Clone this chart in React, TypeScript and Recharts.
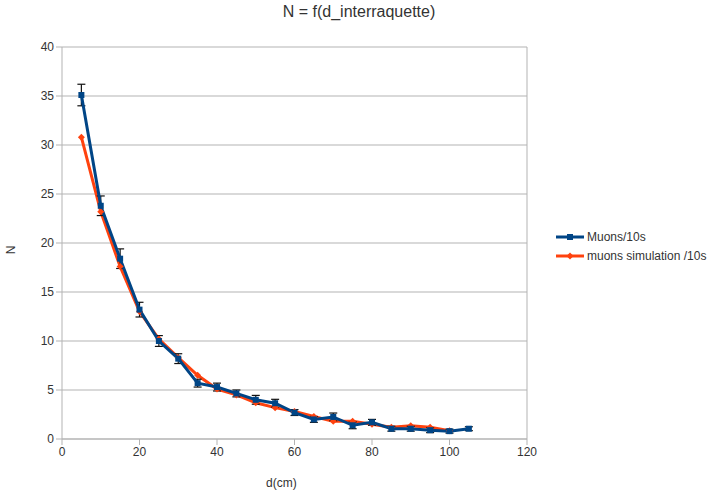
import React from 'react';
import { LineChart, Line, XAxis, YAxis, CartesianGrid, ErrorBar, Legend, ReferenceLine } from 'recharts';

const distances = [5, 10, 15, 20, 25, 30, 35, 40, 45, 50, 55, 60, 65, 70, 75, 80, 85, 90, 95, 100, 105];
const muons = [35.1, 23.8, 18.4, 13.2, 10.0, 8.2, 5.7, 5.3, 4.65, 4.0, 3.65, 2.7, 2.0, 2.25, 1.4, 1.7, 1.05, 1.05, 0.9, 0.8, 1.05];
const muonErrors = [1.1, 1.0, 1.0, 0.75, 0.55, 0.5, 0.4, 0.4, 0.35, 0.45, 0.4, 0.3, 0.3, 0.4, 0.35, 0.3, 0.25, 0.25, 0.25, 0.2, 0.2];
const simulation = [30.8, 23.2, 17.6, 13.0, 10.2, 8.3, 6.5, 5.1, 4.5, 3.7, 3.2, 2.8, 2.3, 1.8, 1.8, 1.5, 1.2, 1.35, 1.2, 0.85, null];
const xTicks = [0, 20, 40, 60, 80, 100, 120];
const yTicks = [0, 5, 10, 15, 20, 25, 30, 35, 40];

const seriesNames = ['Muons/10s', 'muons simulation /10s'];
const BLUE = '#004586';
const RED = '#ff420e';

const data = distances.map((d, i) => ({
  d,
  muons: muons[i],
  err: muonErrors[i],
  sim: simulation[i],
}));

const SquareDot = (props: any) => {
  const { cx, cy } = props;
  if (cx == null || cy == null) return null;
  return <rect x={cx - 3} y={cy - 3} width={6} height={6} fill={BLUE} />;
};

const DiamondDot = (props: any) => {
  const { cx, cy } = props;
  if (cx == null || cy == null) return null;
  return <polygon points={`${cx},${cy - 3.5} ${cx + 3.5},${cy} ${cx},${cy + 3.5} ${cx - 3.5},${cy}`} fill={RED} />;
};

const LegendContent = () => (
  <div style={{ fontFamily: 'Liberation Sans, Arial, sans-serif', fontSize: 12, color: '#333' }}>
    {seriesNames.map((name, i) => (
      <div key={name} style={{ display: 'flex', alignItems: 'center', height: 19 }}>
        <svg width={28} height={10} style={{ marginRight: 3 }}>
          <line x1={0} y1={5} x2={28} y2={5} stroke={i === 0 ? BLUE : RED} strokeWidth={3} />
          {i === 0 ? (
            <rect x={11} y={2} width={6} height={6} fill={BLUE} />
          ) : (
            <polygon points="14,1.5 17.5,5 14,8.5 10.5,5" fill={RED} />
          )}
        </svg>
        <span>{name}</span>
      </div>
    ))}
  </div>
);

export default function App() {
  const font = 'Liberation Sans, Arial, sans-serif';
  return (
    <div style={{ position: 'absolute', left: 0, top: 0, width: 724, height: 492, background: '#fff', fontFamily: font }}>
      <div style={{ position: 'absolute', left: 0, width: 724, top: 3, textAlign: 'center', fontSize: 16, color: '#333' }}>
        <span style={{ position: 'relative', left: -3 }}>N = f(d_interraquette)</span>
      </div>
      <div style={{ position: 'absolute', left: 7, top: 243, fontSize: 12, color: '#333', transform: 'rotate(-90deg)', transformOrigin: 'center' }}>N</div>
      <div style={{ position: 'absolute', left: 266, top: 476, fontSize: 12, color: '#333' }}>d(cm)</div>
      <LineChart
        width={724}
        height={492}
        data={data}
        margin={{ top: 47, right: 197, bottom: 23, left: 32 }}
      >
        <CartesianGrid stroke="#b3b3b3" vertical={false} />
        <XAxis
          dataKey="d"
          type="number"
          domain={[0, 120]}
          ticks={xTicks}
          interval={0}
          height={30}
          tickSize={6}
          tickMargin={2}
          stroke="#b3b3b3"
          tick={{ fill: '#333', fontSize: 12, fontFamily: font }}
        />
        <YAxis
          type="number"
          domain={[0, 40]}
          ticks={yTicks}
          interval={0}
          width={30}
          tickSize={6}
          tickMargin={2}
          stroke="#b3b3b3"
          tick={{ fill: '#333', fontSize: 12, fontFamily: font }}
        />
        <ReferenceLine x={120} stroke="#b3b3b3" />
        <Line
          dataKey="sim"
          name={seriesNames[1]}
          stroke={RED}
          strokeWidth={3}
          dot={<DiamondDot />}
          activeDot={false}
          isAnimationActive={false}
          connectNulls
        />
        <Line
          dataKey="muons"
          name={seriesNames[0]}
          stroke={BLUE}
          strokeWidth={3}
          dot={<SquareDot />}
          activeDot={false}
          isAnimationActive={false}
        >
          <ErrorBar dataKey="err" width={4} stroke="#111" strokeWidth={1.2} direction="y" />
        </Line>
        <Legend
          layout="horizontal"
          verticalAlign="middle"
          align="center"
          content={<LegendContent />}
          wrapperStyle={{ position: 'absolute', left: 556, top: 227, width: 170 }}
        />
      </LineChart>
    </div>
  );
}
